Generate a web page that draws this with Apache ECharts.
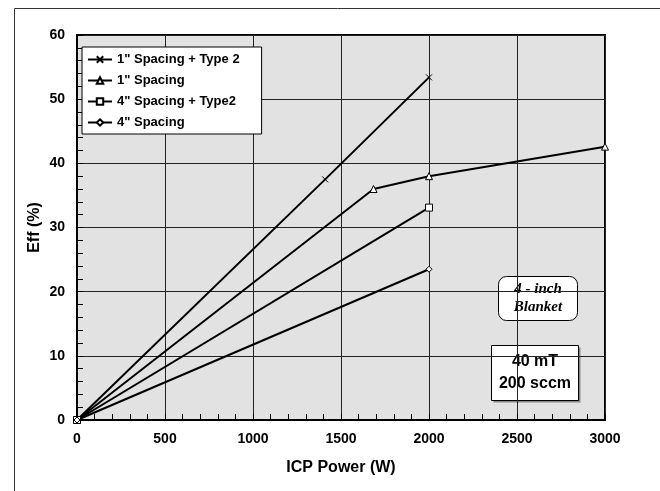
<!DOCTYPE html>
<html><head><meta charset="utf-8">
<script src="https://cdn.jsdelivr.net/npm/echarts@6/dist/echarts.min.js"></script>
<style>html,body{margin:0;padding:0;background:#fff}#c{width:660px;height:491px}</style>
</head><body><div id="c"></div>
<script>
const seriesNames = ['1" Spacing + Type 2', '1" Spacing', '4" Spacing + Type2', '4" Spacing'];
const s1x = [0, 1410, 2000];
const s1y = [0, 37.5, 53.4];
const s2x = [0, 1685, 2000, 3000];
const s2y = [0, 36.0, 38.0, 42.6];
const s3x = [0, 2000];
const s3y = [0, 33.1];
const s4x = [0, 2000];
const s4y = [0, 23.5];
const xTicks = [0, 500, 1000, 1500, 2000, 2500, 3000];
const yTicks = [0, 10, 20, 30, 40, 50, 60];

const pairs = (xs, ys) => xs.map((x, i) => [x, ys[i]]);
const symbols = ['path://M0,0L10,10M10,0L0,10', 'triangle', 'rect', 'diamond'];
const sizes = [6, 7, 7, 6];
const data = [pairs(s1x, s1y), pairs(s2x, s2y), pairs(s3x, s3y), pairs(s4x, s4y)];

const chart = echarts.init(document.getElementById('c'), null, {renderer: 'canvas'});
const font = 'Liberation Sans, Arial, sans-serif';
chart.setOption({
  animation: false,
  backgroundColor: '#fff',
  grid: {left: 77, right: 55, top: 35, bottom: 71, show: true, backgroundColor: '#e2e2e2', borderColor: '#000', borderWidth: 2},
  legend: {
    orient: 'vertical', left: 82, top: 47, data: seriesNames,
    backgroundColor: '#fff', borderColor: '#000', borderWidth: 1, borderRadius: 0,
    padding: [6, 22, 5, 5], itemGap: 8, itemWidth: 24, itemHeight: 8,
    textStyle: {fontFamily: font, fontWeight: 'bold', fontSize: 13, color: '#000'}
  },
  xAxis: {
    type: 'value', min: xTicks[0], max: xTicks[xTicks.length - 1], interval: 500,
    name: 'ICP Power (W)', nameLocation: 'middle', nameGap: 40, nameMoveOverlap: false,
    nameTextStyle: {fontFamily: font, fontWeight: 'bold', fontSize: 16, color: '#000'},
    axisLine: {show: true, lineStyle: {color: '#000', width: 2}},
    axisTick: {show: true, inside: true, length: 6, lineStyle: {color: '#000'}},
    minorTick: {show: true, splitNumber: 5, length: 6, lineStyle: {color: '#000'}},
    axisLabel: {fontFamily: font, fontWeight: 'bold', fontSize: 14, color: '#000', margin: 12, formatter: v => String(v)},
    splitLine: {show: true, lineStyle: {color: '#222', width: 1}}
  },
  yAxis: {
    type: 'value', min: yTicks[0], max: yTicks[yTicks.length - 1], interval: 10,
    name: 'Eff (%)', nameLocation: 'middle', nameGap: 34, nameRotate: 90, nameMoveOverlap: false,
    nameTextStyle: {fontFamily: font, fontWeight: 'bold', fontSize: 16, color: '#000'},
    axisLine: {show: true, lineStyle: {color: '#000', width: 2}},
    axisTick: {show: true, inside: true, length: 6, lineStyle: {color: '#000'}},
    minorTick: {show: true, splitNumber: 5, length: 6, lineStyle: {color: '#000'}},
    axisLabel: {fontFamily: font, fontWeight: 'bold', fontSize: 14, color: '#000', margin: 12, formatter: v => String(v)},
    splitLine: {show: true, lineStyle: {color: '#222', width: 1}}
  },
  series: seriesNames.map((n, i) => ({
    name: n, type: 'line', data: data[i],
    symbol: symbols[i], symbolSize: sizes[i], showAllSymbol: true,
    lineStyle: {color: '#000', width: 2},
    itemStyle: {color: '#fff', borderColor: '#000', borderWidth: 1},
    z: 3
  })),
  graphic: [
    {type: 'rect', left: 12, top: 6, shape: {width: 646, height: 520}, style: {fill: 'none', stroke: '#333', lineWidth: 1}, z: -10, silent: true},
    {type: 'group', left: 498, top: 276, children: [
      {type: 'rect', shape: {x: 0, y: 0, width: 79, height: 44, r: 8}, style: {fill: '#fff', stroke: '#000', lineWidth: 1}},
      {type: 'text', x: 39.5, y: 22, style: {text: '4 - inch\nBlanket', fill: '#000', font: 'italic bold 15px "Liberation Serif", "Times New Roman", serif', align: 'center', verticalAlign: 'middle', lineHeight: 18}}
    ], z: 10},
    {type: 'group', left: 491, top: 345, children: [
      {type: 'rect', shape: {x: 2, y: 2, width: 87, height: 55}, style: {fill: '#888'}},
      {type: 'rect', shape: {x: 0, y: 0, width: 87, height: 55}, style: {fill: '#fff', stroke: '#000', lineWidth: 1}},
      {type: 'text', x: 43.5, y: 27.5, style: {text: '40 mT\n200 sccm', fill: '#000', font: 'bold 16px "Liberation Sans", Arial, sans-serif', align: 'center', verticalAlign: 'middle', lineHeight: 22}}
    ], z: 10}
  ]
});
</script></body></html>
